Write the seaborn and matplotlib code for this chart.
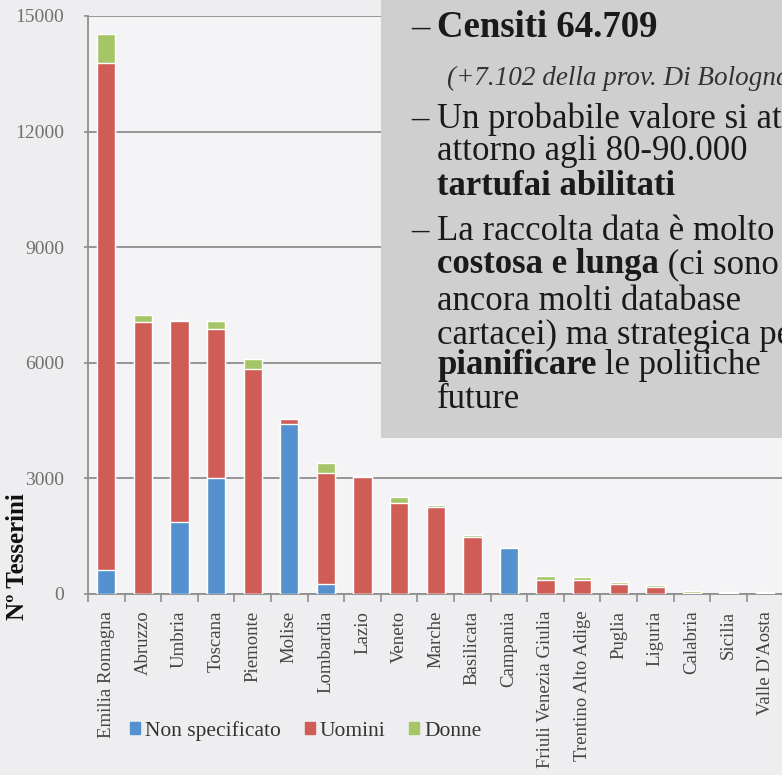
import matplotlib

matplotlib.use("Agg")
import matplotlib.pyplot as plt
import numpy as np
import pandas as pd
import seaborn as sns
from matplotlib.patches import Patch, Rectangle

REGIONS = ["Emilia Romagna", "Abruzzo", "Umbria", "Toscana", "Piemonte", "Molise",
           "Lombardia", "Lazio", "Veneto", "Marche", "Basilicata", "Campania",
           "Friuli Venezia Giulia", "Trentino Alto Adige", "Puglia", "Liguria",
           "Calabria", "Sicilia", "Valle D'Aosta"]
NON_SPEC = [620, 0, 1870, 3000, 0, 4400, 260, 0, 0, 0, 0, 1190, 0, 0, 0, 0, 0, 0, 0]
UOMINI = [13160, 7050, 5210, 3870, 5830, 130, 2870, 3030, 2360, 2250, 1480, 0,
          360, 360, 250, 180, 20, 20, 20]
DONNE = [750, 180, 40, 210, 280, 0, 270, 30, 150, 60, 50, 0, 100, 80, 60, 50, 70, 20, 20]
YTICKS = [0, 3000, 6000, 9000, 12000, 15000]

COLORS = {"Non specificato": "#5591cf", "Uomini": "#cf5d56", "Donne": "#a6c566"}

W, H = 782, 775
BG = "#eeeef0"


def fx(px):
    return px / W


def fy(py):
    return 1 - py / H


sns.set_theme(style="white")
plt.rcParams["font.family"] = ["Liberation Serif", "DejaVu Serif"]

d = pd.DataFrame({"region": REGIONS, "ns": NON_SPEC, "u": UOMINI, "d": DONNE})
d["top_ns"] = d["ns"]
d["top_u"] = d["ns"] + d["u"]
d["top_d"] = d["top_u"] + d["d"]

fig = plt.figure(figsize=(W / 100, H / 100), dpi=100, facecolor=BG)
ax = fig.add_axes([fx(88), fy(594), (783.5 - 88) / W, (594 - 16) / H])
ax.set_facecolor("#f4f4f6")

# stacked bars drawn as layered cumulative totals
for col, name in [("top_d", "Donne"), ("top_u", "Uomini"), ("top_ns", "Non specificato")]:
    sns.barplot(data=d, x="region", y=col, order=REGIONS, color=COLORS[name],
                saturation=1, width=0.5, ax=ax, zorder=3)

ax.set_xlim(-0.5, len(REGIONS) - 0.5)
ax.set_ylim(0, 15000)
ax.set_yticks(YTICKS)
ax.set_yticklabels([str(v) for v in YTICKS], fontsize=14, color="#707070")
ax.yaxis.grid(True, color="#8f8f8f", linewidth=1.3, zorder=0)
ax.tick_params(axis="y", length=3, width=1.2, color="#8f8f8f", pad=14, left=True)
ax.set_xticks(range(len(REGIONS)))
ax.set_xticklabels(REGIONS, rotation=90, fontsize=13.5, color="#444444")
ax.set_xticks(np.arange(-0.5, len(REGIONS), 1), minor=True)
ax.tick_params(axis="x", which="major", length=0, pad=12)
ax.tick_params(axis="x", which="minor", length=6, width=1.2, color="#8f8f8f",
               bottom=True, direction="out")
ax.set_xlabel("")
ax.set_ylabel("")
for s in ("top", "right"):
    ax.spines[s].set_visible(False)
for s in ("left", "bottom"):
    ax.spines[s].set_color("#8f8f8f")
    ax.spines[s].set_linewidth(1.3)

fig.text(fx(18), fy(557), "Nº Tesserini", rotation=90, fontsize=18, fontweight="bold",
         ha="center", va="center", color="#111111")

handles = [Patch(color=COLORS[k], label=k) for k in ["Non specificato", "Uomini", "Donne"]]
fig.legend(handles=handles, loc="center", bbox_to_anchor=(fx(306), fy(731)), ncol=3,
           frameon=False, fontsize=15.5, handlelength=0.45, handleheight=0.45,
           handletextpad=0.25, columnspacing=1.1, labelcolor="#333333")

# grey annotation box over the plot
fig.patches.append(Rectangle((fx(381), fy(438)), 1, 438 / H, transform=fig.transFigure,
                             facecolor="#cfcfcf", edgecolor="none", zorder=5))

TXT = "#1a1a1a"
renderer = fig.canvas.get_renderer()


def line(y, parts, x=437, size=25):
    for text, weight in parts:
        t = fig.text(fx(x), fy(y), text, fontsize=size, fontweight=weight, color=TXT,
                     va="baseline", ha="left", zorder=6)
        x = t.get_window_extent(renderer).x1


for y, size in [(37, 26.5), (128, 25), (240, 25)]:
    fig.text(fx(411), fy(y), "–", fontsize=size, color=TXT, va="baseline", zorder=6)

line(37, [("Censiti 64.709", "bold")], size=26.5)
fig.text(fx(447), fy(85), "(+7.102 della prov. Di Bologna)", fontsize=19.5, style="italic",
         color="#333333", va="baseline", zorder=6)
line(128, [("Un probabile valore si attesta", "normal")])
line(160, [("attorno agli 80-90.000", "normal")])
line(195, [("tartufai abilitati", "bold")])
line(240, [("La raccolta data è molto", "normal")])
line(273, [("costosa e lunga", "bold"), (" (ci sono", "normal")])
line(310, [("ancora molti database", "normal")])
line(344, [("cartacei) ma strategica per", "normal")])
line(374, [("pianificare", "bold"), (" le politiche", "normal")])
line(408, [("future", "normal")])

fig.savefig("out.png", dpi=100, facecolor=BG)
